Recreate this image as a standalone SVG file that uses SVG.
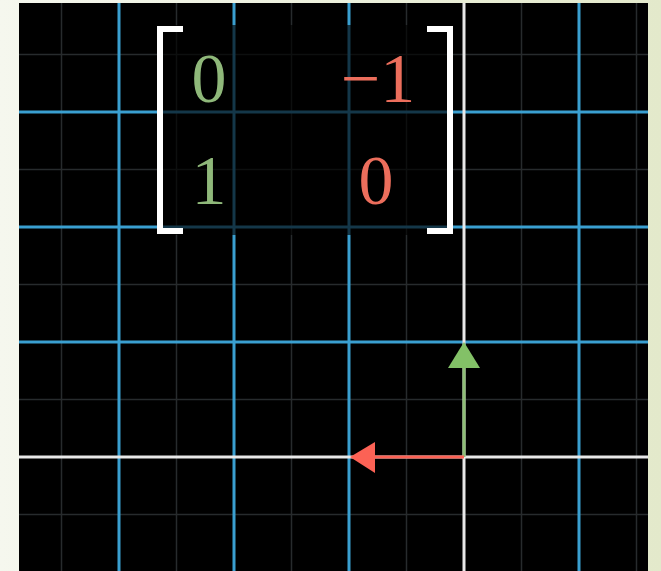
<svg xmlns="http://www.w3.org/2000/svg" width="661" height="571" viewBox="0 0 661 571">
<defs>
<linearGradient id="bg" x1="0" y1="0" x2="1" y2="0">
<stop offset="0" stop-color="#f5f7ee"/>
<stop offset="1" stop-color="#e3e9cb"/>
</linearGradient>
<clipPath id="plane"><rect x="19" y="3" width="629" height="568"/></clipPath>
<style>
.faint{stroke:#272b2d;stroke-width:1.5}
.major{stroke:#3a9fd0;stroke-width:3}
.axis{stroke:#e8e8e8;stroke-width:3}
.br{fill:none;stroke:#ffffff;stroke-width:6}
.num{font-family:"Liberation Serif","DejaVu Serif",serif;font-size:70px;text-anchor:middle}
.g{fill:#8fb87a}
.r{fill:#ec6e5c}
</style>
</defs>
<rect width="661" height="571" fill="url(#bg)"/>
<rect x="19" y="3" width="629" height="568" fill="#000"/>
<g id="grid" clip-path="url(#plane)">
<g id="faint-lines">
<path class="faint" d="M61.5 0V571M176.5 0V571M291.5 0V571M406.5 0V571M521.5 0V571M636.5 0V571M0 54.5H661M0 169.5H661M0 284.5H661M0 399.5H661M0 514.5H661"/>
</g>
<g id="major-lines">
<path class="major" d="M119 0V571M234 0V571M349 0V571M579 0V571M0 112H661M0 227H661M0 342H661"/>
</g>
<g id="axes">
<path class="axis" d="M464 0V571M0 457H661"/>
</g>
</g>
<g id="matrix">
<rect x="157" y="25" width="296" height="210" fill="#000" opacity="0.65"/>
<path class="br" d="M183 29H160V231H183"/>
<path class="br" d="M427 29H450V231H427"/>
<text class="num g" x="209" y="102">0</text>
<text class="num r" x="378" y="102">−1</text>
<text class="num g" x="209" y="204">1</text>
<text class="num r" x="376" y="204">0</text>
</g>
<g id="connectors">
<g id="vector-j">
<line x1="464" y1="457" x2="464" y2="364" stroke="#8fbf77" stroke-width="3"/>
<polygon points="464,342 480,368 448,368" fill="#83c167"/>
</g>
<g id="vector-i">
<line x1="464" y1="457" x2="372" y2="457" stroke="#fc6255" stroke-width="3"/>
<polygon points="350,457 375,442 375,473" fill="#fc6255"/>
</g>
</g>
</svg>
